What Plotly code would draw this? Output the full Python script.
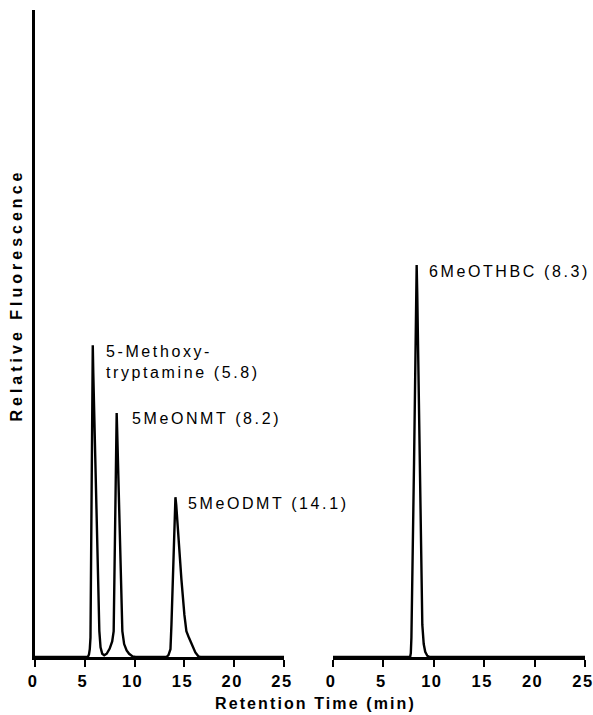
import plotly.graph_objects as go

# Retention time (min) and relative fluorescence for the left chromatogram
left_time = [0.0, 5.3, 5.42, 5.5, 5.57, 5.68, 5.76, 5.8, 5.85, 6.12, 6.36, 6.46, 6.58, 6.75, 6.95,
             7.2, 7.5, 7.75, 7.9, 8.05, 8.17, 8.2, 8.25, 8.5, 8.77, 8.95, 9.2, 9.45, 9.8, 10.1,
             13.2, 13.4, 13.6, 13.7, 13.9, 14.1, 14.18, 14.45, 14.7, 15.0, 15.2, 15.45, 15.8,
             16.1, 16.4, 16.6, 25.0]
left_signal = [0.0, 0.0, 0.4, 1.2, 3.0, 25.0, 43.0, 48.2, 44.0, 24.0, 8.0, 4.0, 1.5, 0.5, 0.25,
               0.5, 1.3, 2.4, 4.0, 20.0, 35.0, 37.7, 35.0, 20.0, 4.0, 2.0, 1.0, 0.5, 0.1, 0.0,
               0.0, 0.3, 1.2, 5.0, 14.0, 24.7, 23.5, 17.0, 12.0, 6.5, 4.0, 3.0, 1.7,
               0.7, 0.1, 0.0, 0.0]

# Retention time (min) and relative fluorescence for the right chromatogram
right_time = [0.0, 7.65, 7.72, 7.78, 8.04, 8.3, 8.36, 8.63, 8.86, 9.0, 9.15, 9.35, 9.6, 25.0]
right_signal = [0.0, 0.0, 0.6, 3.0, 30.0, 60.6, 56.0, 30.0, 5.0, 2.0, 0.8, 0.2, 0.0, 0.0]

tick_vals = [0, 5, 10, 15, 20, 25]
tick_text = ["0", "5", "10", "15", "20", "25"]

# Peak labels: (text, x, y, axis)
peak_labels = [
    ("5-Methoxy-<br>tryptamine (5.8)", 6.93, 48.8, "x"),
    ("5MeONMT (8.2)", 9.54, 36.8, "x"),
    ("5MeODMT (14.1)", 15.2, 23.8, "x"),
    ("6MeOTHBC (8.3)", 9.35, 59.6, "x2"),
]

FONT = "Liberation Sans"


def spaced(text, px):
    """Wrap each line of text in a span with extra letter spacing."""
    return "<br>".join(
        f"<span style='letter-spacing:{px}px'>{line}</span>" for line in text.split("<br>")
    )


fig = go.Figure()
fig.add_trace(go.Scatter(x=left_time, y=left_signal, mode="lines",
                         line=dict(color="black", width=2.4), xaxis="x", yaxis="y",
                         hoverinfo="skip", showlegend=False))
fig.add_trace(go.Scatter(x=right_time, y=right_signal, mode="lines",
                         line=dict(color="black", width=2.4), xaxis="x2", yaxis="y2",
                         hoverinfo="skip", showlegend=False))

xaxis_common = dict(
    range=[0, 25], tickvals=tick_vals, ticktext=[spaced(t, 1.5) for t in tick_text],
    showline=True, linecolor="black", linewidth=2.5,
    ticks="outside", ticklen=7, tickwidth=2, tickcolor="black",
    showgrid=False, zeroline=False, automargin=False,
    ticklabeloverflow="allow", ticklabelshift=-2,
    tickfont=dict(family=FONT, size=16.5, color="black", weight="bold"),
)

fig.update_layout(
    width=593, height=715, autosize=False,
    margin=dict(l=35, r=8, t=10, b=58),
    paper_bgcolor="white", plot_bgcolor="white",
    xaxis=dict(domain=[0, 249 / 550], anchor="y", **xaxis_common),
    xaxis2=dict(domain=[298 / 550, 1.0], anchor="y2", **xaxis_common),
    yaxis=dict(range=[0, 100], showline=True, linecolor="black", linewidth=3,
               showticklabels=False, ticks="", showgrid=False, zeroline=False,
               automargin=False, anchor="x"),
    yaxis2=dict(range=[0, 100], showline=False, showticklabels=False, ticks="",
                showgrid=False, zeroline=False, automargin=False, anchor="x2"),
    showlegend=False,
)

for text, x, y, ax in peak_labels:
    fig.add_annotation(text=spaced(text, 2.6), x=x, y=y, xref=ax,
                       yref="y" if ax == "x" else "y2",
                       xanchor="left", yanchor="top" if "<br>" in text else "middle",
                       align="left", showarrow=False,
                       font=dict(family=FONT, size=16, color="black"))

fig.add_annotation(text=spaced("Retention Time (min)", 2.1), x=0.51, y=-0.072,
                   xref="paper", yref="paper", xanchor="center", yanchor="middle",
                   showarrow=False,
                   font=dict(family=FONT, size=16, color="black", weight="bold"))
fig.add_annotation(text=spaced("Relative Fluorescence", 4.0), x=-0.033, y=0.56,
                   xref="paper", yref="paper", xanchor="center", yanchor="middle",
                   textangle=-90, showarrow=False,
                   font=dict(family=FONT, size=16, color="black", weight="bold"))

fig.write_html("out.html", config={"responsive": False})
